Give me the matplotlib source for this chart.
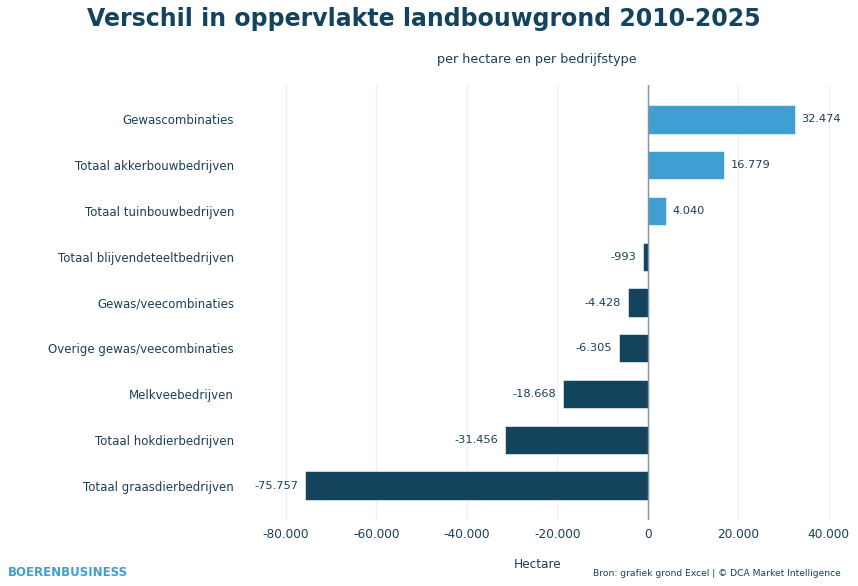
import matplotlib
matplotlib.use('Agg')
import matplotlib.pyplot as plt
from matplotlib.ticker import FuncFormatter

categories = ['Gewascombinaties', 'Totaal akkerbouwbedrijven', 'Totaal tuinbouwbedrijven',
              'Totaal blijvendeteeltbedrijven', 'Gewas/veecombinaties',
              'Overige gewas/veecombinaties', 'Melkveebedrijven',
              'Totaal hokdierbedrijven', 'Totaal graasdierbedrijven']
values = [32474, 16779, 4040, -993, -4428, -6305, -18668, -31456, -75757]
xticks = [-80000, -60000, -40000, -20000, 0, 20000, 40000]

dark = '#14435e'
light = '#3f9fd3'
txt = '#1b3f58'

def nl(v):
    return f'{v:,.0f}'.replace(',', '.')

fig = plt.figure(figsize=(8.58, 5.86), dpi=100)
ax = fig.add_axes([245/858, 66/586, 585/858, 435/586])

ypos = list(range(len(categories)))
colors = [light if v > 0 else dark for v in values]
ax.barh(ypos, values, height=0.62, color=colors, edgecolor='#ffffff', linewidth=0.4, zorder=3)

for y, v in zip(ypos, values):
    if v > 0:
        ax.annotate(nl(v), (v, y), xytext=(5, 0), textcoords='offset points',
                    ha='left', va='center', fontsize=8.2, color=txt)
    else:
        ax.annotate(nl(v), (v, y), xytext=(-5, 0), textcoords='offset points',
                    ha='right', va='center', fontsize=8.2, color=txt)

ax.set_xlim(-89000, 40300)
ax.set_ylim(len(categories) - 0.25, -0.75)
ax.set_yticks(ypos)
ax.set_yticklabels(categories, fontsize=8.5, color=txt)
ax.set_xticks(xticks)
ax.xaxis.set_major_formatter(FuncFormatter(lambda v, p: nl(v)))
ax.tick_params(axis='x', colors=txt, labelsize=8.7, length=0, pad=6)
ax.tick_params(axis='y', length=0, pad=8)
ax.grid(axis='x', color='#eef0f3', linewidth=1, zorder=0)
for s in ax.spines.values():
    s.set_visible(False)
ax.axvline(0, color='#7f93a3', linewidth=1, zorder=4)
ax.set_xlabel('Hectare', fontsize=8.7, color=txt, labelpad=12)

fig.text(424/858, 1 - 19/586, 'Verschil in oppervlakte landbouwgrond 2010-2025', ha='center', va='center',
         fontsize=17, fontweight='bold', color=dark)
fig.text(537/858, 1 - 60/586, 'per hectare en per bedrijfstype', ha='center', va='center',
         fontsize=9.2, color=txt)
fig.text(8/858, 1 - 572/586, 'BOERENBUSINESS', ha='left', va='center',
         fontsize=8.5, fontweight='bold', color=light)
fig.text(841/858, 1 - 573/586, 'Bron: grafiek grond Excel | © DCA Market Intelligence',
         ha='right', va='center', fontsize=6.6, color=txt)

fig.savefig('out.png', dpi=100, facecolor='white')
